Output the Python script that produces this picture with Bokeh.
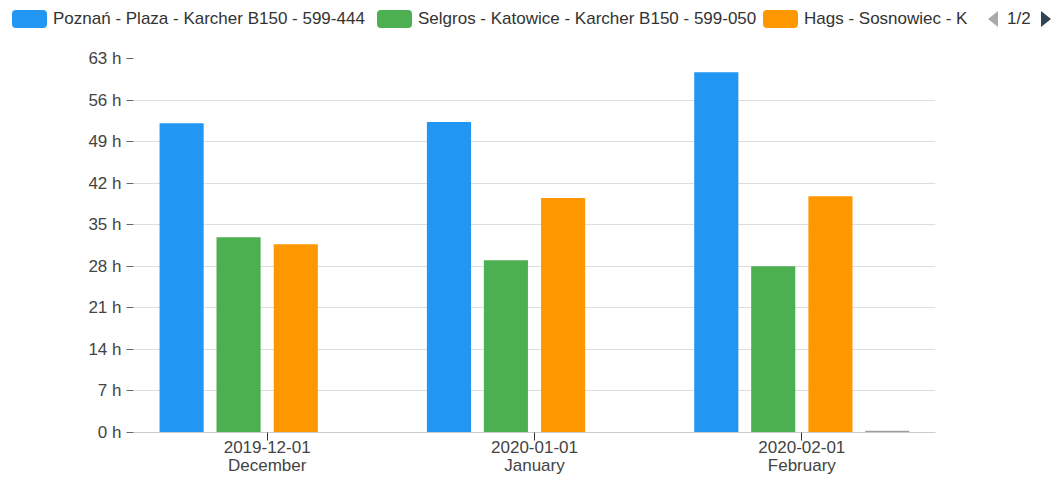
from bokeh.plotting import figure
from bokeh.models import ColumnDataSource, FactorRange, Range1d, FixedTicker, Div
from bokeh.layouts import column
from bokeh.transform import dodge
from bokeh.embed import file_html
from bokeh.resources import INLINE

# ---- data ----
months = ["2019-12-01", "2020-01-01", "2020-02-01"]
month_names = ["December", "January", "February"]
series_names = [
    "Poznań - Plaza - Karcher B150 - 599-444",
    "Selgros - Katowice - Karcher B150 - 599-050",
    "Hags - Sosnowiec - K",
]
poznan = [52.1, 52.3, 60.7]
selgros = [32.9, 29.0, 28.0]
hags = [31.7, 39.5, 39.8]
fourth = [0.0, 0.0, 0.3]
y_ticks = [0, 7, 14, 21, 28, 35, 42, 49, 56, 63]
colors = ["#2196F3", "#4CAF50", "#FF9800", "#9E9E9E"]
page_label = "1/2"

FONT = "Liberation Sans"
TXT = "#444444"

factors = list(zip(month_names, months))
src = ColumnDataSource(dict(month=factors, s0=poznan, s1=selgros, s2=hags, s3=fourth))

W, H_LEG, H = 1054, 40, 438
FL, FR = 133, 935
FT, FB = 18, 392   # frame top / bottom inside the chart figure

xr = FactorRange(*factors, group_padding=0, subgroup_padding=0, factor_padding=0,
                 range_padding=0)
p = figure(x_range=xr, y_range=Range1d(0, 63),
           width=W, height=H, output_backend="svg", toolbar_location=None,
           min_border_left=FL, min_border_right=W - FR, min_border_top=FT,
           min_border_bottom=H - FB)
p.outline_line_color = None
p.background_fill_color = "white"

offsets = [-0.32, -0.107, 0.107, 0.32]
for i, col in enumerate(["s0", "s1", "s2", "s3"]):
    p.vbar(x=dodge("month", offsets[i], range=p.x_range), top=col, width=0.165,
           source=src, fill_color=colors[i], line_color=None)

p.xgrid.grid_line_color = None
p.ygrid.grid_line_color = "#dddddd"
p.ygrid.grid_line_width = 1

p.yaxis.ticker = FixedTicker(ticks=y_ticks)
p.yaxis.major_label_overrides = {t: f"{t} h" for t in y_ticks}
p.yaxis.axis_line_color = None
p.yaxis.major_tick_line_color = "#666666"
p.yaxis.major_tick_in = 0
p.yaxis.major_tick_out = 7
p.yaxis.minor_tick_line_color = None
p.yaxis.major_label_standoff = 5
p.yaxis.major_label_text_font = FONT
p.yaxis.major_label_text_font_size = "17px"
p.yaxis.major_label_text_color = TXT

xa = p.xaxis[0]
xa.axis_line_color = "#cccccc"
xa.major_tick_line_color = "#333333"
xa.major_tick_in = 0
xa.major_tick_out = 8
xa.major_label_standoff = 0
xa.major_label_text_font = FONT
xa.major_label_text_font_size = "17px"
xa.major_label_text_color = TXT
xa.group_text_font = FONT
xa.group_text_font_size = "17px"
xa.group_text_font_style = "normal"
xa.group_text_color = TXT
xa.separator_line_color = None

# ---- legend strip (page 1 of 2) ----
sw_left = [12, 377, 763]
parts = []
for name, c, left in zip(series_names, colors, sw_left):
    parts.append(
        f'<span style="position:absolute;left:{left}px;top:10px;width:35px;height:18px;'
        f'border-radius:4px;background:{c};"></span>'
        f'<span style="position:absolute;left:{left + 41}px;top:9px;line-height:20px;'
        f'white-space:nowrap;">{name}</span>'
    )
parts.append('<span style="position:absolute;left:988px;top:11px;width:0;height:0;'
             'border-top:8px solid transparent;border-bottom:8px solid transparent;'
             'border-right:10px solid #aaaaaa;"></span>')
parts.append(f'<span style="position:absolute;left:1007px;top:9px;line-height:20px;">'
             f'{page_label}</span>')
parts.append('<span style="position:absolute;left:1041px;top:11px;width:0;height:0;'
             'border-top:8px solid transparent;border-bottom:8px solid transparent;'
             'border-left:10px solid #2f4554;"></span>')
html = (f'<div style="position:relative;width:{W}px;height:{H_LEG}px;overflow:hidden;'
        f'font-family:\'{FONT}\';font-size:17px;color:#333333;">' + "".join(parts) + '</div>')
leg = Div(text=html, width=W, height=H_LEG, margin=0,
          styles={"margin": "0", "padding": "0"})

layout = column(leg, p, spacing=0)
open("out.html", "w").write(file_html(layout, INLINE))
